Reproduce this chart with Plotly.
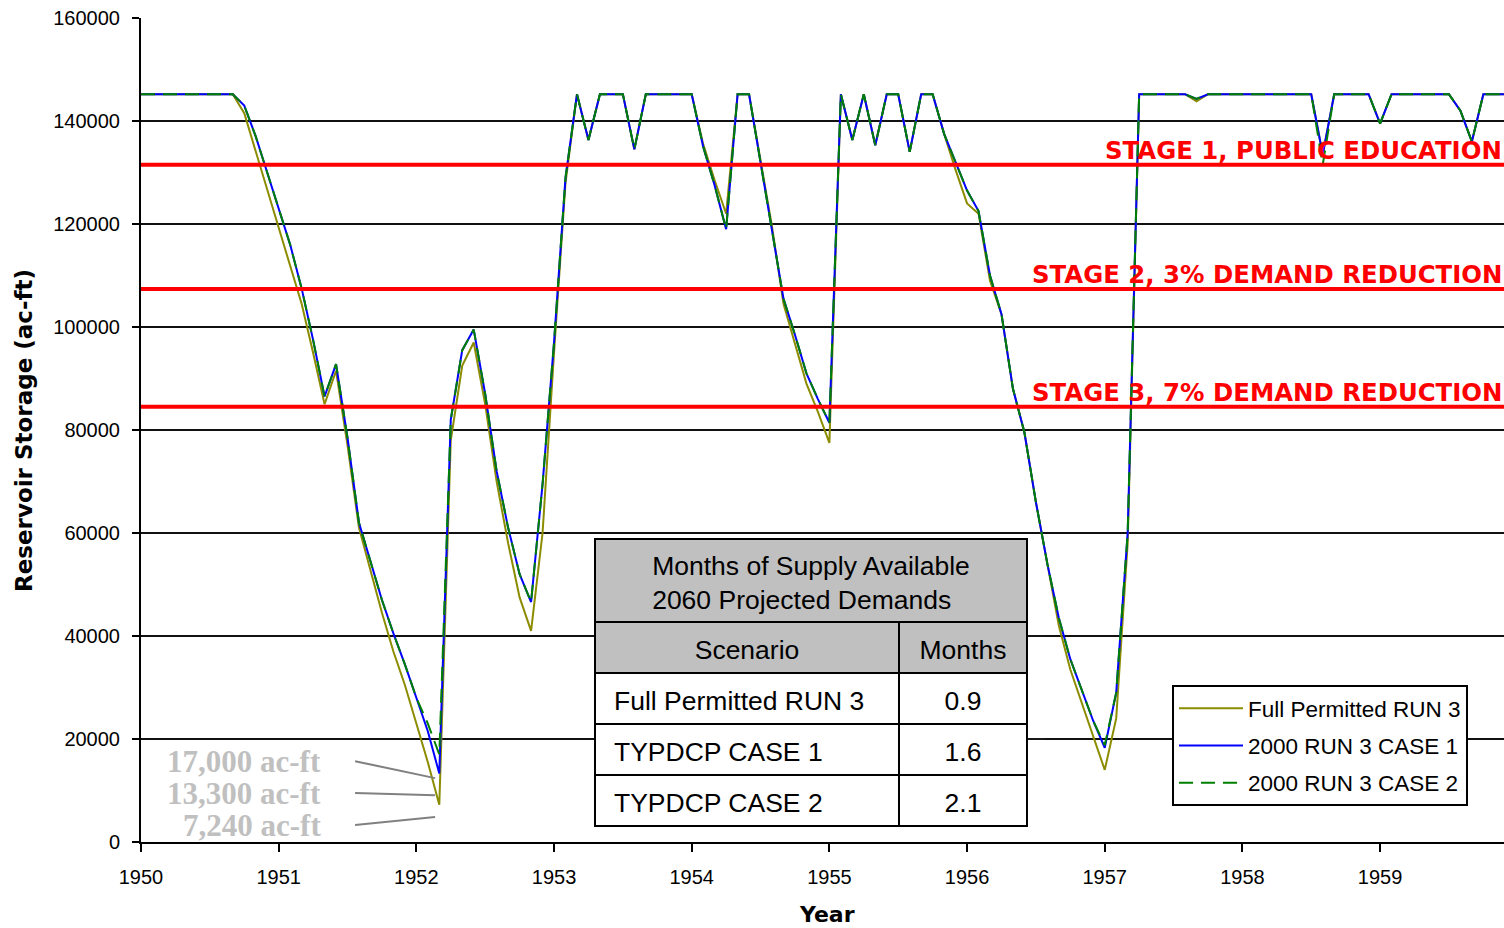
import numpy as np
import plotly.graph_objects as go

# Monthly reservoir storage (ac-ft), one row per year 1950-1959
full_permitted_run3 = [
    145200, 145200, 145200, 145200, 145200, 145200, 145200, 145200, 145200, 141500, 134000, 126500,
    119500, 112000, 104500, 95000, 85000, 91500, 77000, 61000, 52500, 44500, 37000, 30500,
    23000, 15500, 7240, 78000, 92500, 97000, 85000, 70000, 58000, 47500, 41000, 60000,
    95000, 128000, 145200, 136300, 145200, 145200, 145200, 134500, 145200, 145200, 145200, 145200,
    145200, 135500, 128500, 122000, 145200, 145200, 132000, 119500, 104500, 97000, 89000, 83500,
    77500, 145200, 136300, 145200, 135300, 145200, 145200, 134000, 145200, 145200, 137500, 130500,
    124000, 122000, 109000, 102500, 88000, 79500, 66000, 54000, 42000, 33500, 27000, 20500,
    14000, 24000, 58000, 145200, 145200, 145200, 145200, 145200, 143800, 145200, 145200, 145200,
    145200, 145200, 145200, 145200, 145200, 145200, 145200, 133500, 145200, 145200, 145200, 145200,
    139500, 145200, 145200, 145200, 145200, 145200, 145200, 142000, 136000, 145200, 145200, 145200,
]

run3_case1 = [
    145200, 145200, 145200, 145200, 145200, 145200, 145200, 145200, 145200, 143000, 137000, 130000,
    123000, 116000, 107500, 97500, 86500, 92800, 78500, 62000, 54500, 47000, 40500, 34500,
    28000, 21500, 13300, 82000, 95500, 99500, 87000, 72000, 61000, 52000, 46600, 69500,
    97000, 129000, 145200, 136300, 145200, 145200, 145200, 134500, 145200, 145200, 145200, 145200,
    145200, 135000, 127500, 119000, 145200, 145200, 132000, 119500, 105500, 98500, 91000, 86000,
    81400, 145200, 136300, 145200, 135300, 145200, 145200, 134000, 145200, 145200, 137500, 132000,
    126500, 122500, 110000, 102500, 88000, 79500, 66000, 54000, 43500, 35500, 29500, 23500,
    18300, 29000, 60000, 145200, 145200, 145200, 145200, 145200, 144300, 145200, 145200, 145200,
    145200, 145200, 145200, 145200, 145200, 145200, 145200, 133500, 145200, 145200, 145200, 145200,
    139500, 145200, 145200, 145200, 145200, 145200, 145200, 142000, 136000, 145200, 145200, 145200,
]

run3_case2 = [
    145200, 145200, 145200, 145200, 145200, 145200, 145200, 145200, 145200, 143000, 137000, 130000,
    123000, 116000, 107500, 97500, 86500, 92800, 78500, 62000, 54500, 47000, 40500, 34500,
    28000, 23000, 17000, 82000, 95500, 99500, 87000, 72000, 61000, 52000, 46600, 69500,
    97000, 129000, 145200, 136300, 145200, 145200, 145200, 134500, 145200, 145200, 145200, 145200,
    145200, 135000, 127500, 119000, 145200, 145200, 132000, 119500, 105500, 98500, 91000, 86000,
    81400, 145200, 136300, 145200, 135300, 145200, 145200, 134000, 145200, 145200, 137500, 132000,
    126500, 122500, 110000, 102500, 88000, 79500, 66000, 54000, 43500, 35500, 29500, 23500,
    18800, 29000, 60000, 145200, 145200, 145200, 145200, 145200, 144300, 145200, 145200, 145200,
    145200, 145200, 145200, 145200, 145200, 145200, 145200, 131500, 145200, 145200, 145200, 145200,
    139500, 145200, 145200, 145200, 145200, 145200, 145200, 142000, 136000, 145200, 145200, 145200,
]

series_names = ["Full Permitted RUN 3", "2000 RUN 3 CASE 1", "2000 RUN 3 CASE 2"]
series_colors = ["#8C8C00", "#0000FF", "#008000"]
series_dash = ["solid", "solid", "14px,8px"]

years = list(range(1950, 1960))

# Drought stage trigger levels (ac-ft)
stage_levels = [131500, 107400, 84500]
stage_labels = [
    "STAGE 1, PUBLIC EDUCATION",
    "STAGE 2, 3% DEMAND REDUCTION",
    "STAGE 3, 7% DEMAND REDUCTION",
]

table_title = ["Months of Supply Available", "2060 Projected Demands"]
table_header = ["Scenario", "Months"]
table_scenarios = ["Full Permitted RUN 3", "TYPDCP CASE 1", "TYPDCP CASE 2"]
table_months = [0.9, 1.6, 2.1]

month_x = 1950 + np.arange(len(run3_case1)) / 12.0

SANS = "Liberation Sans, Arial, sans-serif"
BOLD = "DejaVu Sans, Verdana, sans-serif"
CLEAR = "rgba(0,0,0,0)"

# plot area: 141..1504 px across, 18..842 px down
PL, PW, PB, PH = 141, 1363, 842, 824


def px_x(p):
    return (p - PL) / PW


def px_y(p):
    return (PB - p) / PH


fig = go.Figure()

all_series = [full_permitted_run3, run3_case1, run3_case2]
for i, (name, vals) in enumerate(zip(series_names, all_series)):
    fig.add_trace(go.Scatter(
        x=month_x, y=vals, mode="lines", name=name,
        line=dict(color=series_colors[i], width=2, dash=series_dash[i]),
        legendgroup=f"g{i}",
        hoverinfo="skip",
    ))

# ---- summary table: frames first, then the text laid over them ----
tfont = dict(family=SANS, size=26.5, color="black")
tx0, tx1 = px_x(595), px_x(1027)
frame = dict(color="black", width=2)
no_line = dict(color=CLEAR, width=0)

# frame: merged title row
fig.add_trace(go.Table(
    domain=dict(x=[tx0, tx1], y=[px_y(622), px_y(539)]),
    header=dict(values=[""], fill_color="#C0C0C0", line=frame, height=83),
    cells=dict(values=[[]], line=no_line),
))
# frame: column header + scenario rows
fig.add_trace(go.Table(
    domain=dict(x=[tx0, tx1], y=[0.0, px_y(622)]),
    columnwidth=[304, 128],
    header=dict(values=["", ""], fill_color="#C0C0C0", line=frame, height=51),
    cells=dict(values=[[""] * 3, [""] * 3], fill_color="white", line=frame, height=51),
))
# text: title
fig.add_trace(go.Table(
    domain=dict(x=[tx0, tx1], y=[0.1, px_y(543)]),
    header=dict(values=["<br>".join(table_title)], fill_color=CLEAR, line=no_line,
                font=tfont, align="center", height=83),
    cells=dict(values=[[]], line=no_line),
))
# text: column header
fig.add_trace(go.Table(
    domain=dict(x=[tx0, tx1], y=[0.0, px_y(631)]),
    columnwidth=[304, 128],
    header=dict(values=table_header, fill_color=CLEAR, line=no_line,
                font=tfont, align="center", height=51),
    cells=dict(values=[[], []], line=no_line),
))
# text: scenario rows (blank header row keeps them below the column header)
fig.add_trace(go.Table(
    domain=dict(x=[px_x(606), tx1], y=[0.0, px_y(631)]),
    columnwidth=[293, 128],
    header=dict(values=["", ""], fill_color=CLEAR, line=no_line, height=51),
    cells=dict(values=[table_scenarios, [f"{m:.1f}" for m in table_months]],
               fill_color=CLEAR, line=no_line, font=tfont,
               align=["left", "center"], height=51),
))

shapes = []
annotations = []
for lvl, lab in zip(stage_levels, stage_labels):
    shapes.append(dict(type="line", xref="paper", yref="y", x0=0, x1=1, y0=lvl, y1=lvl,
                       line=dict(color="#FF0000", width=4), layer="above"))
    annotations.append(dict(text=f"<b>{lab}</b>", xref="paper", yref="y", x=1.0, y=lvl,
                            xanchor="right", yanchor="bottom", showarrow=False, yshift=-2,
                            font=dict(family=BOLD, size=24.4, color="#FF0000")))

# Minimum storage callouts for the 1952 drought
callout_series = [run3_case2, run3_case1, full_permitted_run3]
callout_text_y = [15700, 9500, 3300]
callout_end_y = [12400, 9100, 4850]
for vals, ty, ey in zip(callout_series, callout_text_y, callout_end_y):
    annotations.append(dict(text=f"<b>{min(vals):,} ac-ft</b>", xref="x", yref="y",
                            x=1951.322, y=ty, xanchor="right", yanchor="middle",
                            showarrow=False,
                            font=dict(family="Liberation Serif, Times New Roman, serif",
                                      size=31, color="#C0C0C0")))
    shapes.append(dict(type="line", xref="x", yref="y", x0=1951.555, x1=1952.136,
                       y0=ty, y1=ey, line=dict(color="#808080", width=2), layer="above"))

annotations.append(dict(text="<b>Reservoir Storage (ac-ft)</b>", xref="paper", yref="paper",
                        x=px_x(24), y=px_y(431), textangle=-90,
                        xanchor="center", yanchor="middle", showarrow=False,
                        font=dict(family=BOLD, size=23, color="black")))
annotations.append(dict(text="<b>Year</b>", xref="paper", yref="paper",
                        x=px_x(827), y=px_y(914),
                        xanchor="center", yanchor="middle", showarrow=False,
                        font=dict(family=BOLD, size=22, color="black")))

fig.update_layout(
    width=1504, height=928,
    margin=dict(l=PL, r=0, t=18, b=86),
    paper_bgcolor="white", plot_bgcolor="white",
    shapes=shapes, annotations=annotations,
    showlegend=True,
    legend=dict(
        x=px_x(1172), y=px_y(685), xanchor="left", yanchor="top",
        bgcolor="white", bordercolor="black", borderwidth=2,
        font=dict(family=SANS, size=22.5, color="black"),
        traceorder="grouped", tracegroupgap=5, itemwidth=64,
    ),
    xaxis=dict(
        range=[1950, 1959.9], tickvals=years, ticktext=[str(y) for y in years],
        showgrid=False, zeroline=False,
        showline=True, linecolor="black", linewidth=2,
        ticks="outside", ticklen=8, tickwidth=2, tickcolor="black",
        tickfont=dict(family=SANS, size=20, color="black"),
        ticklabelstandoff=8,
    ),
    yaxis=dict(
        range=[0, 160000], dtick=20000, tickformat="d",
        showgrid=True, gridcolor="#111111", gridwidth=2,
        zeroline=False,
        showline=True, linecolor="black", linewidth=2,
        ticks="outside", ticklen=7, tickwidth=2, tickcolor="black",
        tickfont=dict(family=SANS, size=20, color="black"),
        ticklabelstandoff=8,
    ),
)

fig.write_html("out.html")
